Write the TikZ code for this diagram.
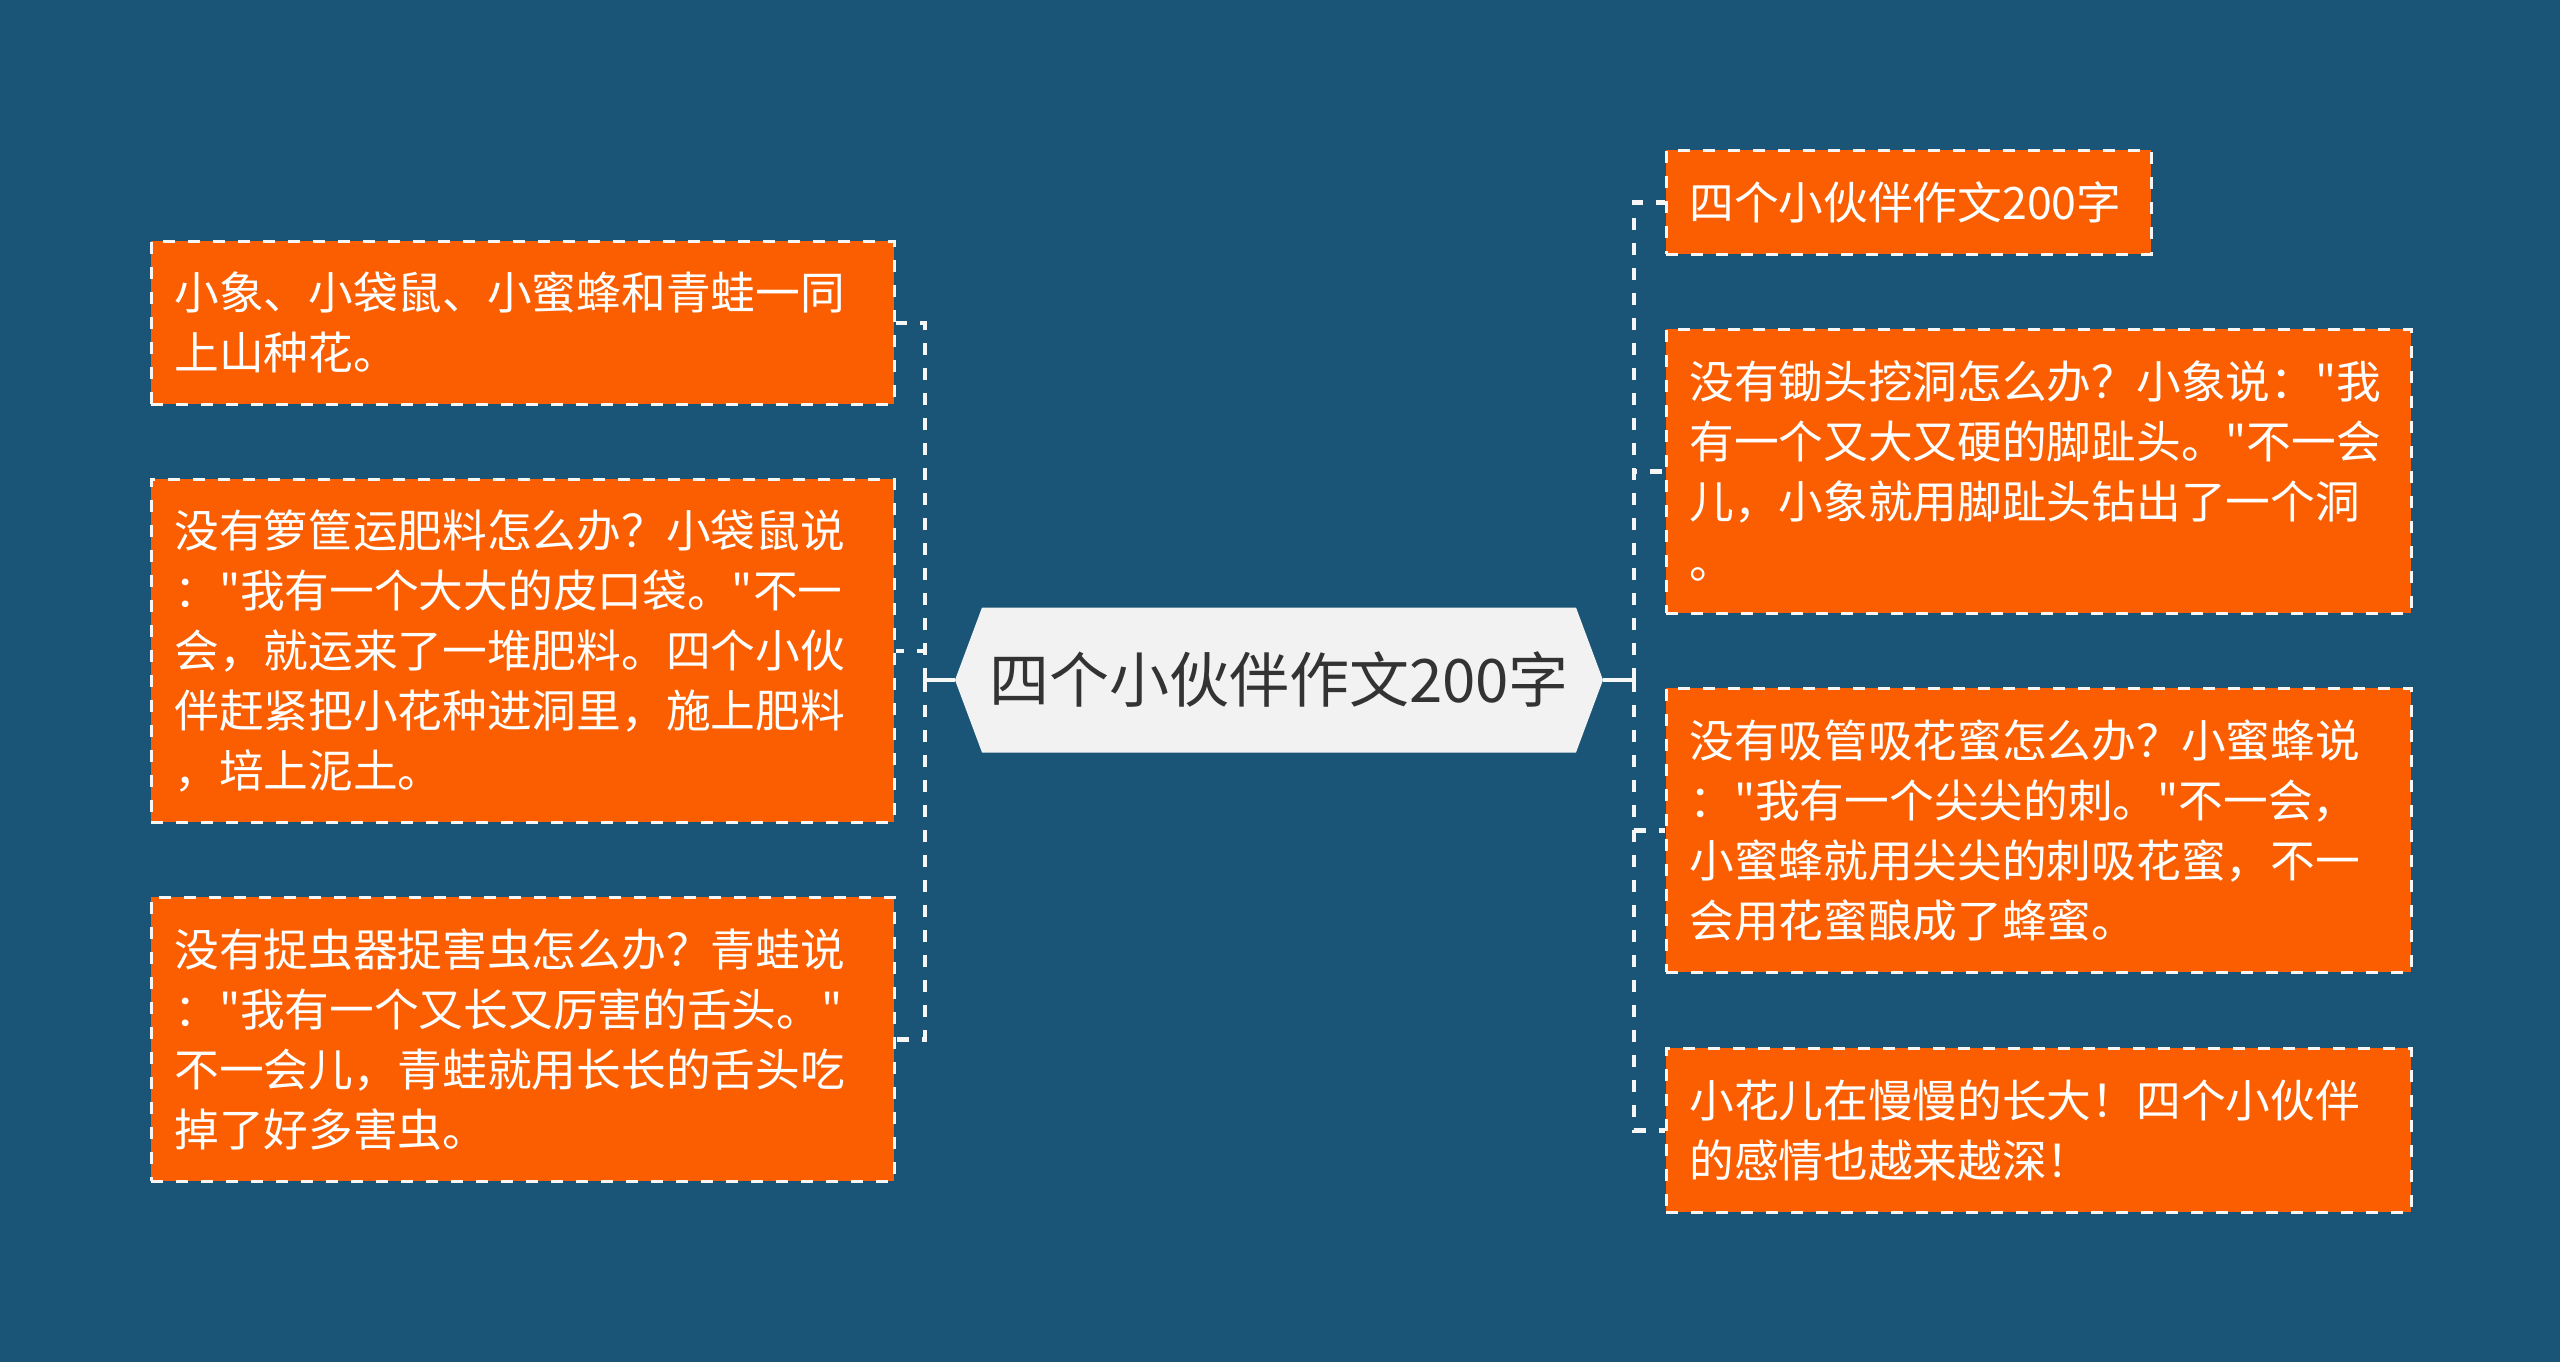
\documentclass[tikz,border=0pt]{standalone}
\usepackage{fontspec}
\newfontfamily\cjkfont{Noto Sans CJK SC}
\definecolor{bg}{RGB}{26,84,118}
\definecolor{orangebox}{RGB}{250,94,0}
\definecolor{centerfill}{RGB}{242,242,242}
\definecolor{centertext}{RGB}{51,51,51}
\definecolor{linecol}{RGB}{246,246,246}
\tikzset{
  leafbox/.style={draw=linecol, line width=2.6pt, dash pattern=on 12pt off 13pt,
    fill=orangebox, text=white, inner xsep=23pt, inner ysep=0pt, align=left,
    anchor=north west, font=\cjkfont\fontsize{44.7}{60}\selectfont},
  dashline/.style={draw=linecol, line width=4.5pt, dash pattern=on 12pt off 13pt},
  solidline/.style={draw=linecol, line width=4pt},
}
\begin{document}
\begin{tikzpicture}[x=1pt,y=-1pt]
\useasboundingbox (0,0) rectangle (2560,1362);
\fill[bg] (0,0) rectangle (2560,1362);

% centre hexagon
\fill[centerfill] (955,680) -- (982,607.5) -- (1576,607.5) -- (1603,680) -- (1576,752.5) -- (982,752.5) -- cycle;
\node[text=centertext, minimum width=648pt, minimum height=145pt, inner sep=0pt,
  font=\cjkfont\fontsize{60}{72}\selectfont] (c) at (1279,680) {四个小伙伴作文200字};

% left leaves
\node[leafbox, text width=697pt, minimum height=163pt] (l1) at (150,240)
  {小象、小袋鼠、小蜜蜂和青蛙一同\\上山种花。};
\node[leafbox, text width=697pt, minimum height=343pt] (l2) at (150,478)
  {没有箩筐运肥料怎么办？小袋鼠说\\："我有一个大大的皮口袋。"不一\\会，就运来了一堆肥料。四个小伙\\伴赶紧把小花种进洞里，施上肥料\\，培上泥土。};
\node[leafbox, text width=697pt, minimum height=284pt] (l3) at (150,896)
  {没有捉虫器捉害虫怎么办？青蛙说\\："我有一个又长又厉害的舌头。"\\不一会儿，青蛙就用长长的舌头吃\\掉了好多害虫。};

% right leaves
\node[leafbox, text width=439pt, minimum height=104pt] (r1) at (1665,149)
  {四个小伙伴作文200字};
\node[leafbox, text width=699pt, minimum height=284pt] (r2) at (1665,328)
  {没有锄头挖洞怎么办？小象说："我\\有一个又大又硬的脚趾头。"不一会\\儿，小象就用脚趾头钻出了一个洞\\。};
\node[leafbox, text width=699pt, minimum height=284pt] (r3) at (1665,687)
  {没有吸管吸花蜜怎么办？小蜜蜂说\\："我有一个尖尖的刺。"不一会，\\小蜜蜂就用尖尖的刺吸花蜜，不一\\会用花蜜酿成了蜂蜜。};
\node[leafbox, text width=699pt, minimum height=164pt] (r4) at (1665,1047)
  {小花儿在慢慢的长大！四个小伙伴\\的感情也越来越深！};

% junctions
\coordinate (jl) at (925,680);
\coordinate (jr) at (1634,680);

% connectors
\draw[solidline] (c.west) -- (jl);
\draw[solidline] (c.east) -- (jr);
\draw[dashline] (jl) |- (l1.east);
\draw[dashline] (jl) |- (l2.east);
\draw[dashline] (jl) |- (l3.east);
\draw[dashline] (jr) |- (r1.west);
\draw[dashline] (jr) |- (r2.west);
\draw[dashline] (jr) |- (r3.west);
\draw[dashline] (jr) |- (r4.west);
\end{tikzpicture}
\end{document}
